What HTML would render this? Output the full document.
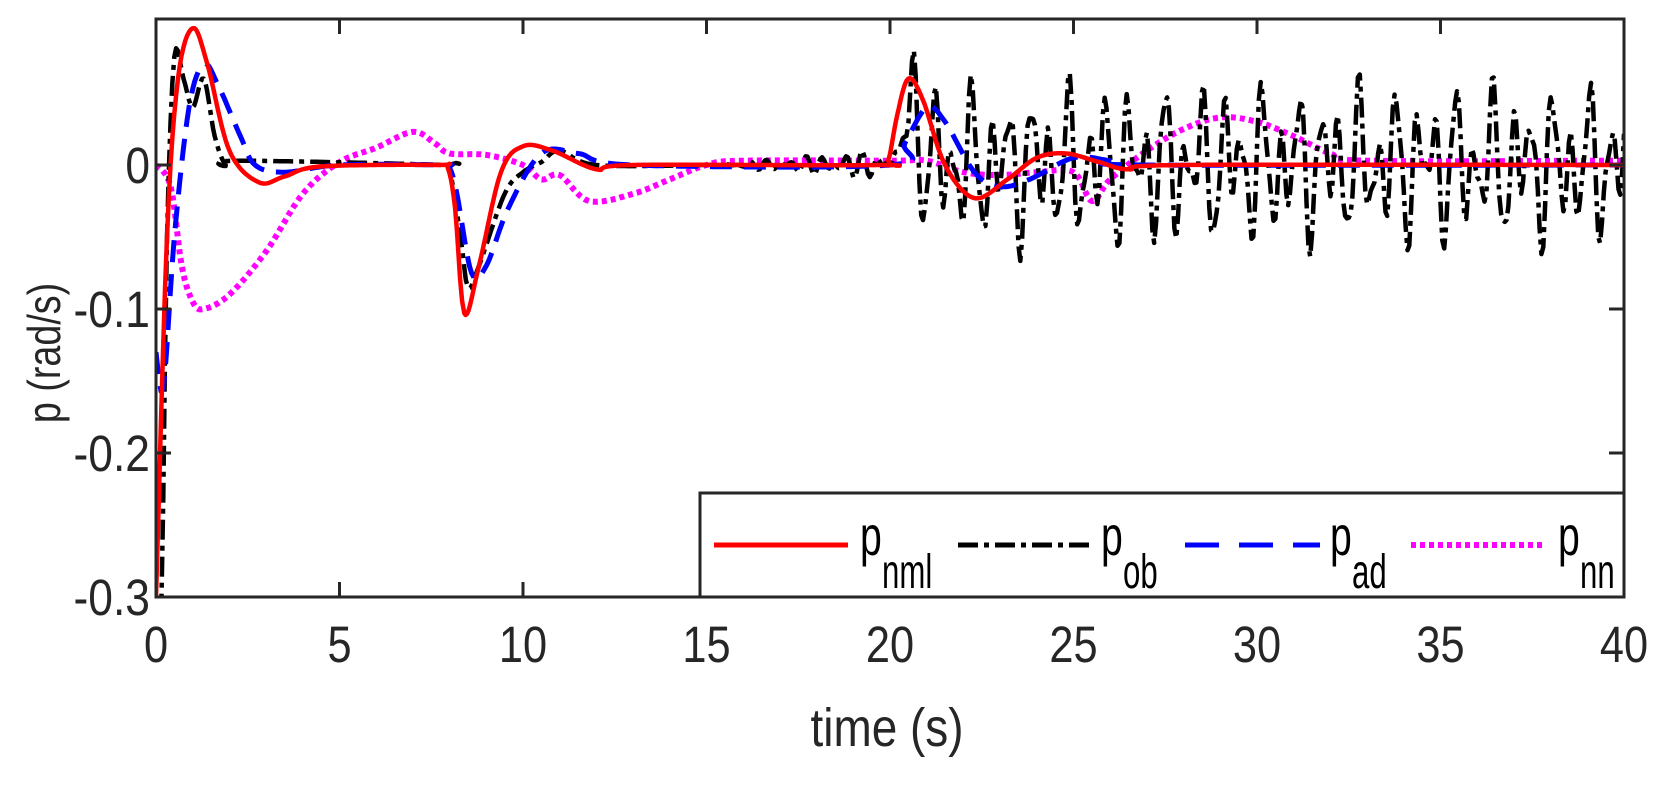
<!DOCTYPE html>
<html><head><meta charset="utf-8"><style>
html,body{margin:0;padding:0;background:#fff;}
svg{display:block;font-family:"Liberation Sans",Arial,sans-serif;}
</style></head><body>
<svg id="s" width="1676" height="787" viewBox="0 0 1676 787" xmlns="http://www.w3.org/2000/svg">
<defs><clipPath id="c"><rect x="156" y="19" width="1468" height="578"/></clipPath></defs>
<g id="plot" clip-path="url(#c)"></g>
<g id="axes"></g>
<text font-size="54" text-anchor="middle" fill="#262626" transform="translate(887,746) scale(0.85,1)">time (s)</text>
<text font-size="46" text-anchor="middle" fill="#262626" transform="translate(60,353) rotate(-90) scale(0.82,1)">p (rad/s)</text>
<rect x="700" y="493" width="924" height="104" fill="#fff" stroke="#262626" stroke-width="3"/>
<line x1="714" y1="545" x2="848" y2="545" stroke="#f00" stroke-width="5"/>
<text font-size="56" fill="#000" transform="translate(860,555) scale(0.7,1)">p</text>
<text font-size="48" fill="#000" transform="translate(882,588) scale(0.65,1)">nml</text>
<line x1="958" y1="545" x2="1093" y2="545" stroke="#000" stroke-width="5" stroke-dasharray="20 6 5 6"/>
<text font-size="56" fill="#000" transform="translate(1101,555) scale(0.7,1)">p</text>
<text font-size="48" fill="#000" transform="translate(1123,588) scale(0.65,1)">ob</text>
<line x1="1185" y1="545" x2="1320" y2="545" stroke="#00f" stroke-width="5" stroke-dasharray="34 20"/>
<text font-size="56" fill="#000" transform="translate(1330,555) scale(0.7,1)">p</text>
<text font-size="48" fill="#000" transform="translate(1352,588) scale(0.65,1)">ad</text>
<line x1="1411" y1="545" x2="1543" y2="545" stroke="#f0f" stroke-width="6" stroke-dasharray="5 4"/>
<text font-size="56" fill="#000" transform="translate(1558,555) scale(0.7,1)">p</text>
<text font-size="48" fill="#000" transform="translate(1580,588) scale(0.65,1)">nn</text>
</svg>
<script>
var X0=156,XS=1468/40,Y0=165,YS=1440;
function px(t){return X0+t*XS;} function py(v){return Y0-v*YS;}
function cr(pts){var out=[];for(var i=0;i<pts.length-1;i++){var p0=pts[Math.max(0,i-1)],p1=pts[i],p2=pts[i+1],p3=pts[Math.min(pts.length-1,i+2)];
var n=Math.max(2,Math.ceil((p2[0]-p1[0])*20));for(var k=0;k<n;k++){var u=k/n,u2=u*u,u3=u2*u;
var f=function(a,b,c,d){return 0.5*(2*b+(-a+c)*u+(2*a-5*b+4*c-d)*u2+(-a+3*b-3*c+d)*u3);};
out.push([f(p0[0],p1[0],p2[0],p3[0]),f(p0[1],p1[1],p2[1],p3[1])]);}}out.push(pts[pts.length-1]);return out;}
function path(pts,col,w,dash){var d=pts.map(function(p,i){return (i?'L':'M')+px(p[0]).toFixed(1)+' '+py(p[1]).toFixed(1);}).join('');
return '<path d="'+d+'" fill="none" stroke="'+col+'" stroke-width="'+w+'"'+(dash?' stroke-dasharray="'+dash+'"':'')+' stroke-linejoin="round"/>';}
var red=[[0,-0.3],[0.3,-0.05],[0.6,0.06],[1.0,0.095],[1.4,0.07],[2.0,0.01],[2.8,-0.012],[3.5,-0.008],[4.5,-0.001],[7.7,0],[7.95,-0.002],[8.15,-0.03],[8.4,-0.103],[8.8,-0.07],[9.4,-0.005],[10,0.013],[10.8,0.01],[12,-0.003],[13,0],[19.7,0],[19.95,0.003],[20.2,0.035],[20.5,0.06],[20.9,0.045],[21.5,0.0],[22.3,-0.023],[23.2,-0.01],[24,0.005],[24.8,0.008],[25.7,0.002],[26.5,-0.003],[28,0],[40,0]];
var blue=[[0,-0.13],[0.2,-0.155],[0.5,-0.05],[0.9,0.04],[1.3,0.07],[1.7,0.055],[2.3,0.02],[2.7,0.0],[3.5,-0.005],[5,0],[7.8,0],[8.0,-0.002],[8.2,-0.02],[8.6,-0.075],[9,-0.07],[9.6,-0.03],[10.5,0.008],[11.5,0.008],[13,0],[20,0],[20.4,0.015],[21,0.04],[21.5,0.03],[22.3,-0.005],[23,-0.015],[23.8,-0.01],[25,0.005],[26,0.003],[27,0],[40,0]];
var mag=[[0,0],[0.4,-0.015],[0.7,-0.07],[1.0,-0.095],[1.3,-0.1],[2,-0.09],[3,-0.06],[4,-0.02],[5,0.002],[6,0.012],[7,0.023],[7.6,0.015],[8,0.008],[9,0.007],[10,0.0],[10.5,-0.01],[11,-0.007],[11.8,-0.025],[13,-0.02],[14,-0.01],[15,0],[16,0.003],[20,0.003],[21,0.003],[22,-0.005],[23,-0.007],[24,-0.005],[25,-0.005],[25.5,-0.025],[26,-0.01],[27,0.01],[28,0.025],[29,0.033],[30,0.03],[31,0.02],[32,0.008],[33,0.003],[40,0.003]];
var blkA=cr([[0,-0.3],[0.15,-0.3],[0.3,-0.05],[0.5,0.075],[0.75,0.06],[1,0.04],[1.3,0.06],[1.6,0.02],[1.9,0.0],[2.2,0.003],[7.8,0],[8.0,-0.003],[8.3,-0.05],[8.5,-0.085],[8.8,-0.07],[9.5,-0.02],[10,-0.005],[10.5,0.002],[11,0.01],[12,0],[15,0]]);
for(var t=15.05;t<=40;t+=0.05){var v;
 if(t<20){v=(t-15)/5*0.012*Math.sin(2*Math.PI*2.3*t)*Math.sin(2*Math.PI*0.37*t+1);}
 else{var r=Math.min(1,(t-20)/0.5);v=r*(0.033*Math.sin(2*Math.PI*1.9*t)+0.022*Math.sin(2*Math.PI*1.13*t+1)+0.012*Math.sin(2*Math.PI*3.3*t+0.4));
  v+=0.035*Math.exp(-Math.pow((t-20.6)/0.3,2));v=Math.max(-0.07,Math.min(0.08,v));}
 blkA.push([t,v]);}
var g=document.getElementById('plot');
g.innerHTML=path(cr(mag),'#f0f',6,'5 4')+path(blkA,'#000',4.5,'20 6 5 6')+path(cr(blue),'#00f',5,'22 12')+path(cr(red),'#f00',4.5);
var a='<rect x="156" y="19" width="1468" height="578" fill="none" stroke="#262626" stroke-width="3"/>';
for(var i=0;i<=8;i++){var x=px(i*5);a+='<line x1="'+x+'" y1="597" x2="'+x+'" y2="582" stroke="#262626" stroke-width="3"/><line x1="'+x+'" y1="19" x2="'+x+'" y2="34" stroke="#262626" stroke-width="3"/>';
a+='<text font-size="51" text-anchor="middle" fill="#262626" transform="translate('+x+',662) scale(0.85,1)">'+(i*5)+'</text>';}
var yl=['0','-0.1','-0.2','-0.3'];
for(var j=0;j<4;j++){var y=py(-j*0.1);a+='<line x1="156" y1="'+y+'" x2="171" y2="'+y+'" stroke="#262626" stroke-width="3"/><line x1="1624" y1="'+y+'" x2="1609" y2="'+y+'" stroke="#262626" stroke-width="3"/>';
a+='<text font-size="51" text-anchor="end" fill="#262626" transform="translate(150,'+(y+18)+') scale(0.87,1)">'+yl[j]+'</text>';}
document.getElementById('axes').innerHTML=a;
</script>
</body></html>
